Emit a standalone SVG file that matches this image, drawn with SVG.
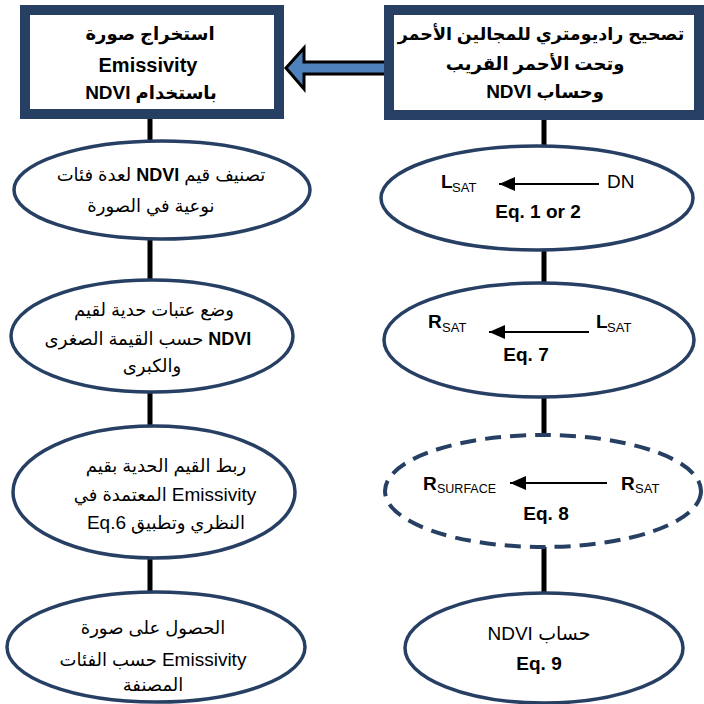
<svg xmlns="http://www.w3.org/2000/svg" width="704" height="704" viewBox="0 0 704 704">
<style>
.box{fill:#fff;stroke:#263F63;stroke-width:10}
.ell{fill:#fff;stroke:#263F63;stroke-width:3.5}
.dash{stroke-dasharray:16 9;stroke-width:4}
.conn{stroke:#000;stroke-width:5;fill:none}
.ia{stroke:#000;stroke-width:2;fill:none}
text{font-family:"Liberation Sans","DejaVu Sans",sans-serif;fill:#000}
.ar{font-size:18px;direction:rtl;text-anchor:middle}
.hd{font-size:18px;font-weight:bold;direction:rtl;text-anchor:middle}
.b{font-weight:bold}
.sym{font-size:19px}
.sub{font-size:13px}
.eq{font-size:19px;font-weight:bold;text-anchor:middle}
</style>
<defs>
<marker id="ah" markerWidth="16" markerHeight="14" refX="16" refY="7" orient="auto" markerUnits="userSpaceOnUse">
<path d="M0,0 L16,7 L0,14 Z" fill="#000"/>
</marker>
</defs>
<rect width="704" height="704" fill="#fff"/>
<g id="connectors">
<line class="conn" x1="150" y1="118" x2="150" y2="142"/>
<line class="conn" x1="150" y1="238" x2="150" y2="281"/>
<line class="conn" x1="150" y1="391" x2="150" y2="427"/>
<line class="conn" x1="150" y1="557" x2="150" y2="592"/>
<line class="conn" x1="544" y1="119" x2="544" y2="146"/>
<line class="conn" x1="544" y1="250" x2="544" y2="283"/>
<line class="conn" x1="544" y1="396" x2="544" y2="436"/>
<line class="conn" x1="544" y1="547" x2="544" y2="593"/>
<polygon points="286,68 304,48 304,62 386,62 386,74 304,74 304,89" fill="#4F81BD" stroke="#000" stroke-width="3" stroke-linejoin="miter"/>
</g>
<g id="box-left">
<rect class="box" x="25" y="10" width="254" height="104"/>
<text class="hd" x="150" y="40">استخراج صورة</text>
<text class="hd" x="148" y="72" style="font-size:20px">Emissivity</text>
<text class="hd" x="151" y="99">باستخدام <tspan style="font-size:19px">NDVI</tspan></text>
</g>
<g id="box-right">
<rect class="box" x="389" y="10" width="310" height="105"/>
<text class="hd" x="541" y="40" style="font-size:17.5px">تصحيح راديومتري للمجالين الأحمر</text>
<text class="hd" x="535" y="70">وتحت الأحمر القريب</text>
<text class="hd" x="545" y="98">وحساب <tspan style="font-size:19px">NDVI</tspan></text>
</g>
<g id="left-1">
<ellipse class="ell" cx="162" cy="190" rx="148" ry="49"/>
<text class="ar" x="161" y="181">تصنيف قيم <tspan class="b">NDVI</tspan> لعدة فئات</text>
<text class="ar" x="151" y="212">نوعية في الصورة</text>
</g>
<g id="left-2">
<ellipse class="ell" cx="152" cy="336" rx="141" ry="56"/>
<text class="ar" x="154" y="316">وضع عتبات حدية لقيم</text>
<text class="ar" x="148" y="345"><tspan class="b">NDVI</tspan> حسب القيمة الصغرى</text>
<text class="ar" x="152" y="372">والكبرى</text>
</g>
<g id="left-3">
<ellipse class="ell" cx="154" cy="492" rx="141" ry="66"/>
<text class="ar" x="166" y="472">ربط القيم الحدية بقيم</text>
<text class="ar" x="165" y="501"><tspan style="font-size:19px">Emissivity</tspan> المعتمدة في</text>
<text class="ar" x="166" y="529">النظري وتطبيق <tspan style="font-size:19px">Eq.6</tspan></text>
</g>
<g id="left-4">
<ellipse class="ell" cx="156" cy="647" rx="149" ry="55"/>
<text class="ar" x="153" y="634">الحصول على صورة</text>
<text class="ar" x="153" y="666"><tspan style="font-size:19px">Emissivity</tspan> حسب الفئات</text>
<text class="ar" x="153" y="691">المصنفة</text>
</g>
<g id="right-1">
<ellipse class="ell" cx="537" cy="198" rx="156" ry="52"/>
<line class="ia" x1="599" y1="184" x2="499" y2="184" marker-end="url(#ah)"/>
<text class="sym b" x="441" y="188">L</text>
<text class="sub" x="452" y="192">SAT</text>
<text class="sym" x="607" y="188">DN</text>
<text class="eq" x="538" y="218">Eq. 1 or 2</text>
</g>
<g id="right-2">
<ellipse class="ell" cx="539" cy="340" rx="155" ry="57"/>
<line class="ia" x1="589" y1="332" x2="489" y2="332" marker-end="url(#ah)"/>
<text class="sym b" x="428" y="328">R</text>
<text class="sub" x="442" y="332">SAT</text>
<text class="sym b" x="596" y="328">L</text>
<text class="sub" x="607" y="332">SAT</text>
<text class="eq" x="526" y="361">Eq. 7</text>
</g>
<g id="right-3">
<ellipse class="ell dash" cx="543" cy="491" rx="158" ry="56"/>
<line class="ia" x1="607" y1="483" x2="510" y2="483" marker-end="url(#ah)"/>
<text class="sym b" x="423" y="490">R</text>
<text class="sub" x="437" y="493" style="font-size:12.5px">SURFACE</text>
<text class="sym b" x="621" y="490">R</text>
<text class="sub" x="635" y="493">SAT</text>
<text class="eq" x="546" y="520">Eq. 8</text>
</g>
<g id="right-4">
<ellipse class="ell" cx="544" cy="648" rx="139" ry="55"/>
<text class="ar" x="539" y="640" style="font-size:19px">حساب NDVI</text>
<text class="eq" x="539" y="670">Eq. 9</text>
</g>
</svg>
